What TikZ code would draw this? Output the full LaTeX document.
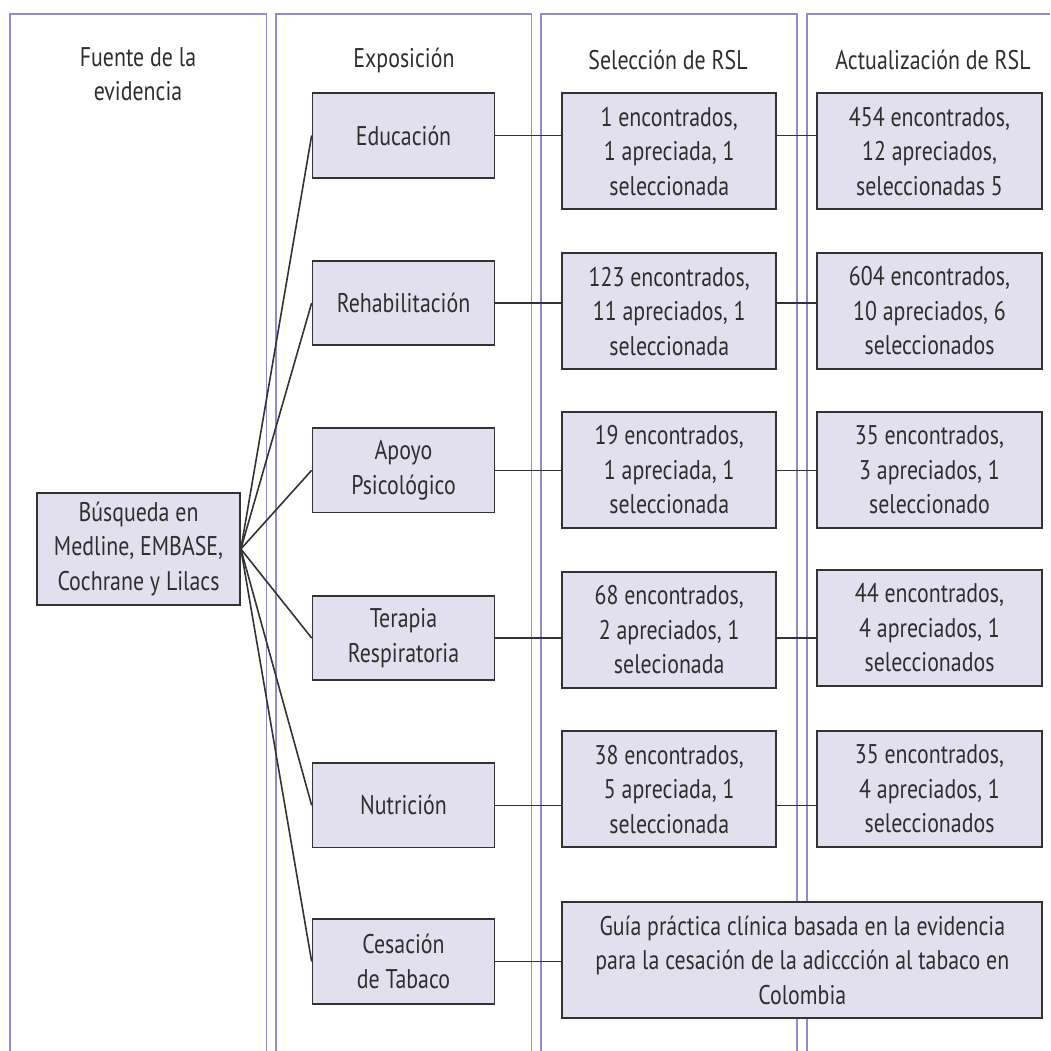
\documentclass[tikz,border=0pt]{standalone}
\usepackage{fontspec}
\setmainfont[FakeStretch=0.81]{PT Sans}
\begin{document}
\begin{tikzpicture}[x=1pt,y=-1pt,
  every node/.style={text=txtgray,font=\fontsize{27}{34.5}\selectfont},
  box/.style={draw=boxline,fill=boxfill,line width=1.7pt,inner sep=0pt,align=center},
  expo/.style={box,minimum width=182pt,minimum height=84.5pt},
  selbox/.style={box,minimum width=214pt,minimum height=116pt},
  actbox/.style={box,minimum width=224.5pt,minimum height=116pt},
  head/.style={align=center,inner sep=0pt},
  frame/.style={draw=framecol,line width=1.1pt},
  link/.style={draw=boxline,line width=1.6pt}]
\definecolor{txtgray}{HTML}{2E2E2E}
\definecolor{boxline}{HTML}{333333}
\definecolor{boxfill}{HTML}{E2E0EE}
\definecolor{framecol}{HTML}{9588CC}
\useasboundingbox (0,0) rectangle (1050,1051);

% column frames (open at the bottom)
\draw[frame] (10,1051) -- (10,14) -- (266.5,14) -- (266.5,1051);
\draw[frame] (276,1051) -- (276,14) -- (531.5,14) -- (531.5,1051);
\draw[frame] (541,1051) -- (541,14) -- (797,14) -- (797,1051);
\draw[frame] (807,1051) -- (807,14) -- (1050,14);

% column headings
\node[head] (h1) at (138,74) {Fuente de la\\evidencia};
\node[head] (h2) at (404,60) {Exposición};
\node[head] (h3) at (668,60) {Selección de RSL};
\node[head] (h4) at (933,60) {Actualización de RSL};

% source
\node[box,minimum width=203pt,minimum height=112pt] (src) at (138.5,549)
  {Búsqueda en\\Medline, EMBASE,\\Cochrane y Lilacs};

% exposures
\node[expo] (e1) at (403.5,135.5) {Educación};
\node[expo] (e2) at (403.5,303) {Rehabilitación};
\node[expo] (e3) at (403.5,470.3) {Apoyo\\Psicológico};
\node[expo] (e4) at (403.5,638) {Terapia\\Respiratoria};
\node[expo] (e5) at (403.5,805.3) {Nutrición};
\node[expo] (e6) at (403.5,961.5) {Cesación\\de Tabaco};

% selection of systematic reviews
\node[selbox] (s1) at (669.2,151.3) {1 encontrados,\\1 apreciada, 1\\seleccionada};
\node[selbox] (s2) at (669.2,311.3) {123 encontrados,\\11 apreciados, 1\\seleccionada};
\node[selbox] (s3) at (669.2,470) {19 encontrados,\\1 apreciada, 1\\seleccionada};
\node[selbox] (s4) at (669.2,629.7) {68 encontrados,\\2 apreciados, 1\\selecionada};
\node[selbox] (s5) at (669.2,789.2) {38 encontrados,\\5 apreciada, 1\\seleccionada};

% update of systematic reviews
\node[actbox] (a1) at (929.5,151.3) {454 encontrados,\\12 apreciados,\\seleccionadas 5};
\node[actbox] (a2) at (929.5,311) {604 encontrados,\\10 apreciados, 6\\seleccionados};
\node[actbox] (a3) at (929.5,470) {35 encontrados,\\3 apreciados, 1\\seleccionado};
\node[actbox] (a4) at (929.5,628) {44 encontrados,\\4 apreciados, 1\\seleccionados};
\node[actbox] (a5) at (929.5,789) {35 encontrados,\\4 apreciados, 1\\seleccionados};

% clinical guideline
\node[box,minimum width=480pt,minimum height=116pt] (g) at (802.3,960.3)
  {Guía práctica clínica basada en la evidencia\\para la cesación de la adiccción al tabaco en\\Colombia};

% fan-out from the search
\foreach \e in {e1,e2,e3,e4,e5,e6}
  \draw[link] (src.east) -- (\e.west);

% row connectors
\foreach \i in {1,...,5} {
  \draw[link] (e\i.east) -- (e\i.east -| s\i.west);
  \draw[link] (s\i.east |- e\i.east) -- (e\i.east -| a\i.west);
}
\draw[link] (e6.east) -- (e6.east -| g.west);
\end{tikzpicture}
\end{document}
